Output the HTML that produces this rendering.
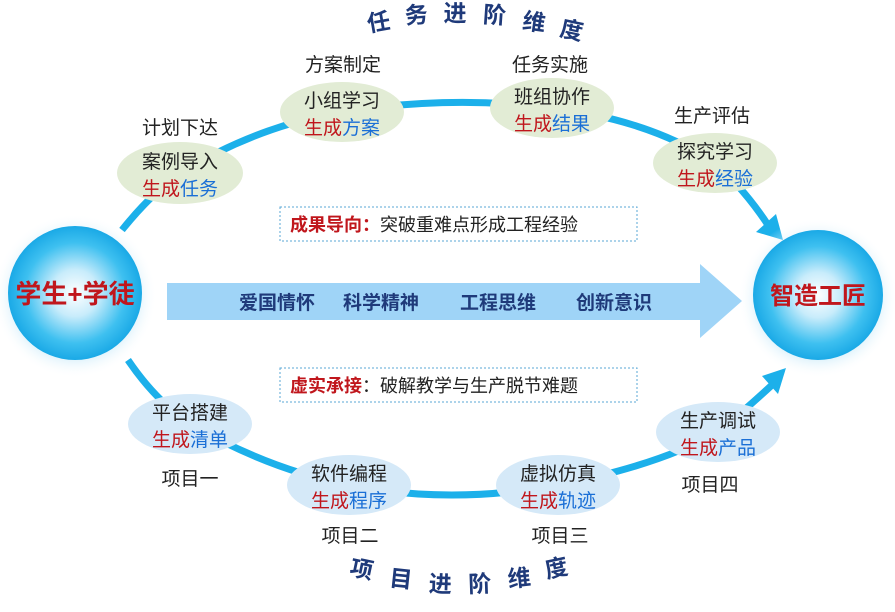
<!DOCTYPE html>
<html><head><meta charset="utf-8"><style>
html,body{margin:0;padding:0;background:#fff}
svg text{font-family:"Liberation Sans","Noto Sans CJK SC",sans-serif}
</style></head><body>
<svg width="895" height="607" viewBox="0 0 895 607" xmlns="http://www.w3.org/2000/svg">
<defs>
<radialGradient id="sph" cx="0.5" cy="0.5" r="0.5">
<stop offset="0" stop-color="#ffffff"/>
<stop offset="0.35" stop-color="#c8ecfb"/>
<stop offset="0.75" stop-color="#3ec0f0"/>
<stop offset="1" stop-color="#1aa9e6"/>
</radialGradient>
<radialGradient id="glow" cx="0.5" cy="0.5" r="0.5">
<stop offset="0.7" stop-color="#bfe6f8" stop-opacity="0.8"/>
<stop offset="1" stop-color="#ffffff" stop-opacity="0"/>
</radialGradient>
</defs>
<g fill="none" stroke="#1cb0ea" stroke-width="7">
<path d="M122,230 Q150,195 180,173 Q260,125 342,112 Q450,95 552,108 Q650,120 715,163 Q745,190 768,225"/>
<path d="M128,360 Q155,400 190,424 Q270,470 349,485 Q450,505 558,485 Q660,465 718,432 Q745,410 772,385"/>
</g>
<polygon points="783,240 756,232 776,214" fill="#1cb0ea"/>
<polygon points="786,368 762,376 778,394" fill="#1cb0ea"/>
<circle cx="75" cy="296" r="82" fill="url(#glow)"/>
<circle cx="75" cy="293" r="67" fill="url(#sph)"/>
<circle cx="818" cy="298" r="80" fill="url(#glow)"/>
<circle cx="818" cy="295" r="65" fill="url(#sph)"/>
<text x="75" y="303" font-size="26" fill="#c0161c" text-anchor="middle" font-weight="bold">学生+学徒</text>
<text x="818" y="304" font-size="24" fill="#c0161c" text-anchor="middle" font-weight="bold">智造工匠</text>
<polygon points="167,283 700,283 700,264 742,301 700,338 700,320 167,320" fill="#9fd4f7"/>
<g font-size="19" font-weight="bold" fill="#1f3a7a" text-anchor="middle">
<text x="277" y="309">爱国情怀</text><text x="381" y="309">科学精神</text>
<text x="498" y="309">工程思维</text><text x="614" y="309">创新意识</text>
</g>
<rect x="280" y="207" width="357" height="34" fill="#fff" stroke="#5aa7d6" stroke-dasharray="2,2"/>
<text x="290" y="231" font-size="18"><tspan fill="#c0161c" font-weight="bold">成果导向：</tspan><tspan fill="#222">突破重难点形成工程经验</tspan></text>
<rect x="280" y="368" width="357" height="34" fill="#fff" stroke="#5aa7d6" stroke-dasharray="2,2"/>
<text x="290" y="392" font-size="18"><tspan fill="#c0161c" font-weight="bold">虚实承接</tspan><tspan fill="#222">：破解教学与生产脱节难题</tspan></text>
<g fill="#e2ecd5">
<ellipse cx="180" cy="173" rx="63" ry="31"/><ellipse cx="342" cy="112" rx="62" ry="30"/>
<ellipse cx="552" cy="108" rx="62" ry="30"/><ellipse cx="715" cy="163" rx="62" ry="30"/>
</g>
<g fill="#d5e9f8">
<ellipse cx="190" cy="424" rx="62" ry="30"/><ellipse cx="349" cy="485" rx="62" ry="30"/>
<ellipse cx="558" cy="485" rx="62" ry="30"/><ellipse cx="718" cy="432" rx="62" ry="30"/>
</g>
<g font-size="19" text-anchor="middle" fill="#222">
<text x="180" y="168">案例导入</text><text x="180" y="195"><tspan fill="#c0161c">生成</tspan><tspan fill="#1a6fd6">任务</tspan></text>
<text x="342" y="107">小组学习</text><text x="342" y="134"><tspan fill="#c0161c">生成</tspan><tspan fill="#1a6fd6">方案</tspan></text>
<text x="552" y="103">班组协作</text><text x="552" y="130"><tspan fill="#c0161c">生成</tspan><tspan fill="#1a6fd6">结果</tspan></text>
<text x="715" y="158">探究学习</text><text x="715" y="185"><tspan fill="#c0161c">生成</tspan><tspan fill="#1a6fd6">经验</tspan></text>
<text x="190" y="419">平台搭建</text><text x="190" y="446"><tspan fill="#c0161c">生成</tspan><tspan fill="#1a6fd6">清单</tspan></text>
<text x="349" y="480">软件编程</text><text x="349" y="507"><tspan fill="#c0161c">生成</tspan><tspan fill="#1a6fd6">程序</tspan></text>
<text x="558" y="480">虚拟仿真</text><text x="558" y="507"><tspan fill="#c0161c">生成</tspan><tspan fill="#1a6fd6">轨迹</tspan></text>
<text x="718" y="427">生产调试</text><text x="718" y="454"><tspan fill="#c0161c">生成</tspan><tspan fill="#1a6fd6">产品</tspan></text>
<text x="180" y="134">计划下达</text><text x="343" y="71">方案制定</text>
<text x="550" y="71">任务实施</text><text x="712" y="122">生产评估</text>
<text x="190" y="485">项目一</text><text x="350" y="542">项目二</text>
<text x="560" y="542">项目三</text><text x="710" y="491">项目四</text>
</g>
<g font-size="23" font-weight="bold" fill="#1f3a7a" text-anchor="middle">
<text transform="translate(380,30) rotate(-10)">任</text>
<text transform="translate(417,23) rotate(-5)">务</text>
<text transform="translate(455,21)">进</text>
<text transform="translate(494,23) rotate(4)">阶</text>
<text transform="translate(533,30) rotate(8)">维</text>
<text transform="translate(570,38) rotate(12)">度</text>
<text transform="translate(360,577) rotate(12)">项</text>
<text transform="translate(400,587) rotate(6)">目</text>
<text transform="translate(440,592) rotate(2)">进</text>
<text transform="translate(480,592) rotate(-2)">阶</text>
<text transform="translate(520,586) rotate(-6)">维</text>
<text transform="translate(558,576) rotate(-12)">度</text>
</g>
</svg>
</body></html>
